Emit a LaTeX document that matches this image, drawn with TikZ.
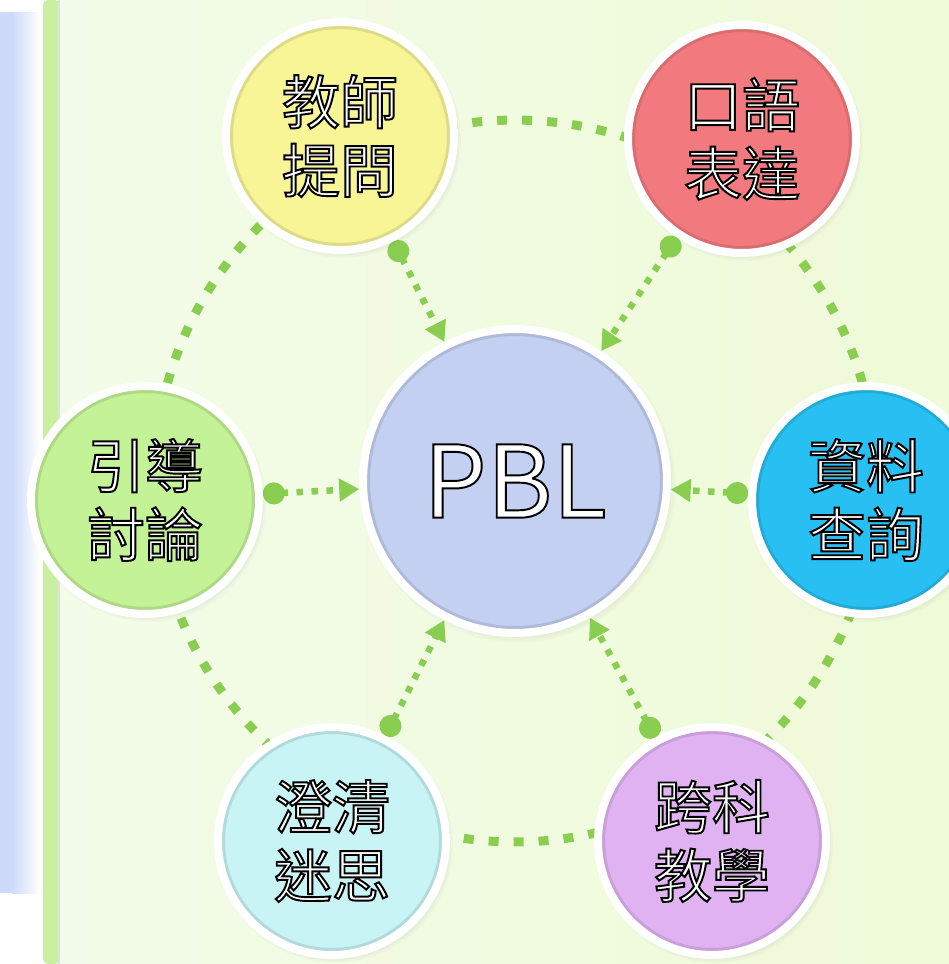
\documentclass[tikz,border=0pt]{standalone}
\usepackage{fontspec}
\setmainfont{Noto Sans CJK TC}
\usetikzlibrary{arrows.meta,shadows}
\pgfdeclarelayer{bg}
\pgfdeclarelayer{links}
\pgfsetlayers{bg,links,main}

\definecolor{pagegreen}{RGB}{239,250,216}
\definecolor{pagegreenlight}{RGB}{243,252,232}
\definecolor{bandgreen}{RGB}{200,240,160}
\definecolor{panelblue}{RGB}{205,218,250}
\definecolor{linkgreen}{RGB}{137,206,80}
\definecolor{yellowbub}{RGB}{247,245,150}
\definecolor{redbub}{RGB}{242,122,126}
\definecolor{cyanbub}{RGB}{40,192,242}
\definecolor{violetbub}{RGB}{224,178,242}
\definecolor{icebub}{RGB}{200,244,245}
\definecolor{greenbub}{RGB}{196,242,150}
\definecolor{pblblue}{RGB}{195,208,242}

\newcommand{\outlined}[1]{\textcolor{white}{\special{pdf:literal direct 2 Tr 1.1 w 0 0 0 RG}#1\special{pdf:literal direct 0 Tr}}}

\tikzset{
    bubble/.style 2 args={circle, draw=white, line width=0.16cm, minimum size=#2, fill=#1,
        circular drop shadow={shadow xshift=0.05cm, shadow yshift=-0.07cm, opacity=0.35, shadow scale=1.04},
        path picture={\draw[#1!70!black, opacity=0.35, line width=0.12cm]
            (path picture bounding box.center) circle[radius=#2/2-0.08cm];},
        align=center, font=\fontsize{33}{39}\selectfont},
    ring/.style={linkgreen, line width=0.18cm, dash pattern=on 0.2cm off 0.3cm},
    spoke/.style={linkgreen, line width=0.13cm, dash pattern=on 0.13cm off 0.17cm,
        {Circle[length=0.44cm, width=0.44cm]}-{Triangle[length=0.4cm, width=0.44cm]}},
}

\begin{document}
\begin{tikzpicture}[x=0.02cm, y=-0.02cm]
    \useasboundingbox (0,0) rectangle (949,964);
    \begin{pgfonlayer}{bg}
        \fill[white] (0,0) rectangle (949,964);
        \shade[left color=pagegreenlight, right color=pagegreen] (60,0) rectangle (949,964);
        \fill[panelblue] (0,12) rectangle (12,893);
        \shade[left color=panelblue, right color=white] (12,12) rectangle (40,893);
        \fill[bandgreen, rounded corners=0.1cm] (43,0) rectangle (60,964);
        \fill[black!12] (58,0) rectangle (60,964);
    \end{pgfonlayer}

    \node[bubble={pblblue}{6.08cm}, font=\fontsize{57}{60}\selectfont] (pbl) at (515,481) {\outlined{PBL}};
    \node[bubble={yellowbub}{4.56cm}] (teach) at (340,136) {\outlined{教師}\\\outlined{提問}};
    \node[bubble={redbub}{4.56cm}] (oral) at (742,139) {\outlined{口語}\\\outlined{表達}};
    \node[bubble={cyanbub}{4.56cm}] (data) at (866,500) {\outlined{資料}\\\outlined{查詢}};
    \node[bubble={violetbub}{4.56cm}] (cross) at (712,841) {\outlined{跨科}\\\outlined{教學}};
    \node[bubble={icebub}{4.56cm}] (clarify) at (332,841) {\outlined{澄清}\\\outlined{迷思}};
    \node[bubble={greenbub}{4.56cm}] (guide) at (145,500) {\outlined{引導}\\\outlined{討論}};

    \begin{pgfonlayer}{links}
        \draw[ring] (pbl.center) circle[radius=7.22cm];
        \foreach \n in {teach,oral,data,cross,clarify,guide}
            \draw[spoke] (\n) -- (pbl);
    \end{pgfonlayer}
\end{tikzpicture}
\end{document}
